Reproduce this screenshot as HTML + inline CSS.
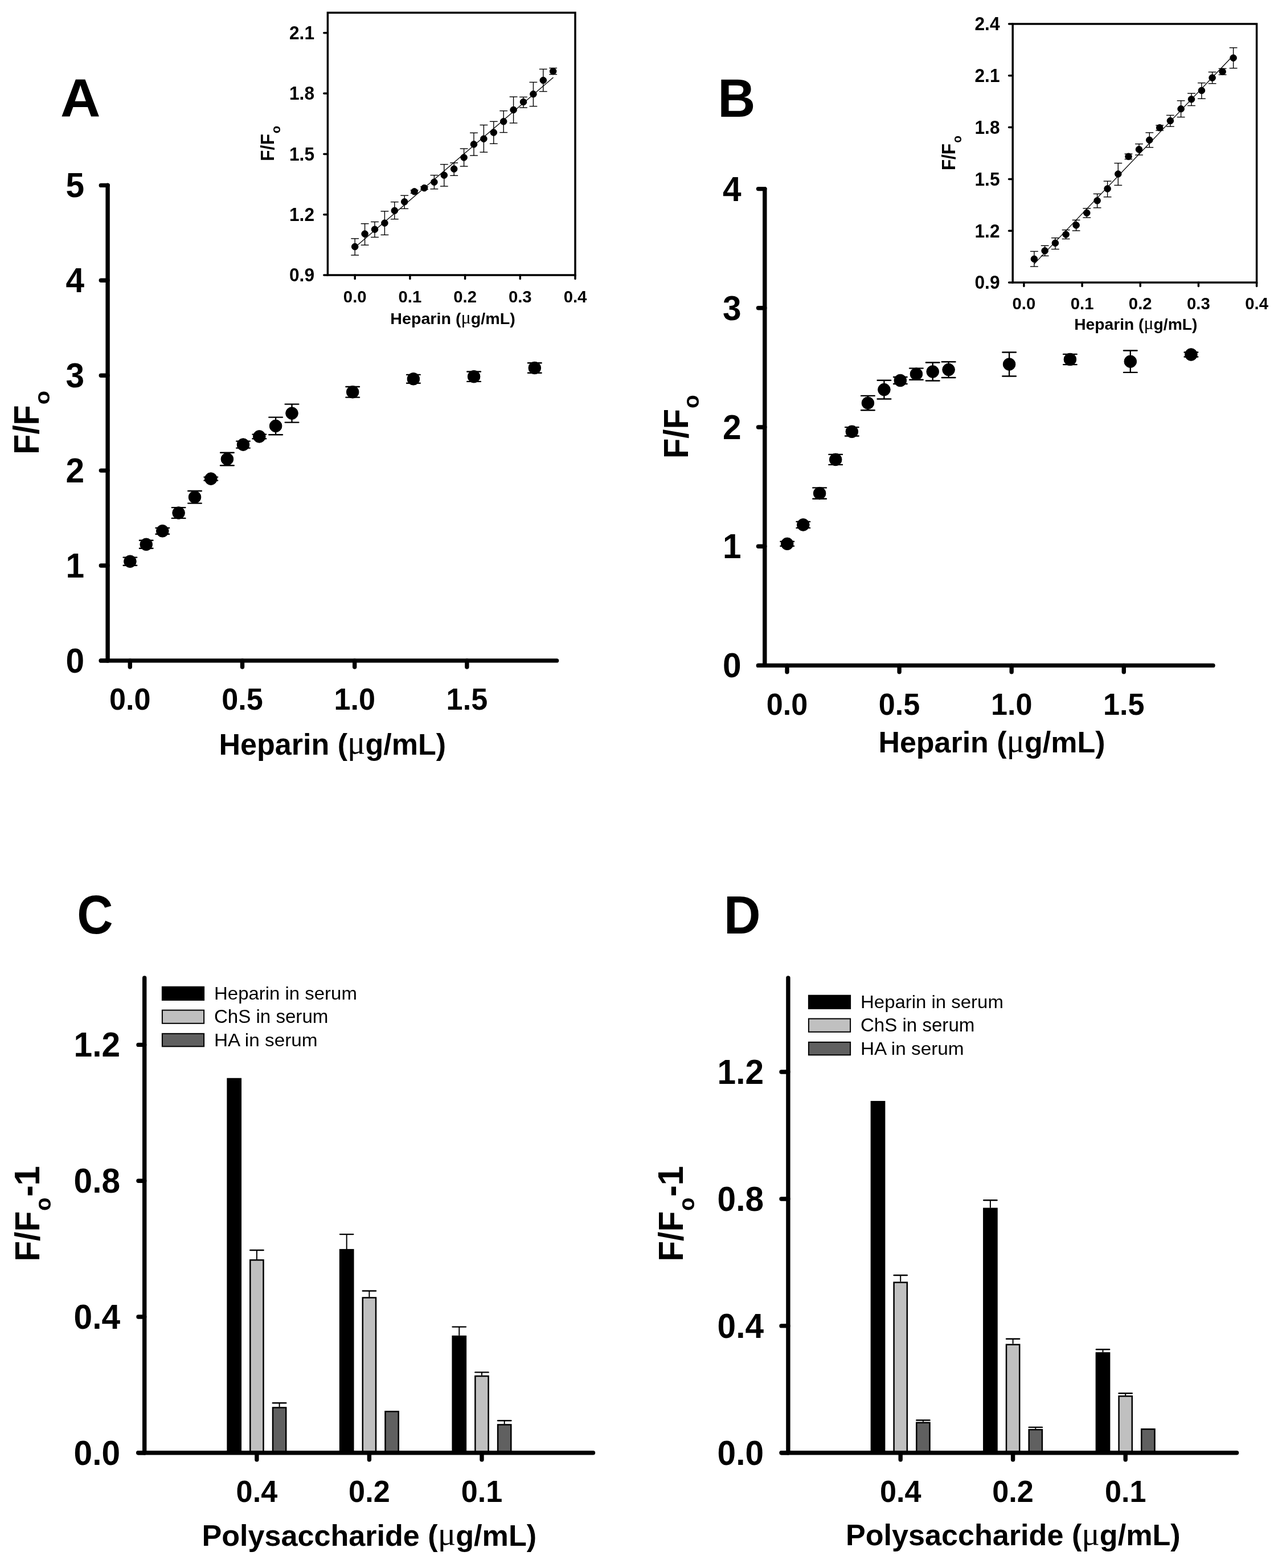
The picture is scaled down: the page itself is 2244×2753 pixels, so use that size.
<!DOCTYPE html>
<html><head><meta charset="utf-8"><title>Figure</title>
<style>
html,body{margin:0;padding:0;background:#fff;}
body{width:2244px;height:2753px;overflow:hidden;}
svg{display:block;}
text{font-family:'Liberation Sans', Arial, sans-serif;fill:#000;stroke:none;}
</style></head>
<body>
<svg width="2244" height="2753" viewBox="0 0 2244 2753">
<rect width="2244" height="2753" fill="#fff"/>
<g stroke="#000" fill="#000">
<line x1="189.1" y1="325.2" x2="189.1" y2="1159.9" stroke-width="7.4" stroke-linecap="round"/>
<line x1="177.3" y1="1159.9" x2="977.6" y2="1159.9" stroke-width="7.4" stroke-linecap="round"/>
<line x1="177.3" y1="1159.9" x2="189.1" y2="1159.9" stroke-width="7.4" stroke-linecap="round"/>
<text transform="translate(148 1180.9) scale(0.96 1)" font-size="61" font-weight="bold" text-anchor="end">0</text>
<line x1="177.3" y1="993" x2="189.1" y2="993" stroke-width="7.4" stroke-linecap="round"/>
<text transform="translate(148 1014) scale(0.96 1)" font-size="61" font-weight="bold" text-anchor="end">1</text>
<line x1="177.3" y1="826.1" x2="189.1" y2="826.1" stroke-width="7.4" stroke-linecap="round"/>
<text transform="translate(148 847.1) scale(0.96 1)" font-size="61" font-weight="bold" text-anchor="end">2</text>
<line x1="177.3" y1="659.2" x2="189.1" y2="659.2" stroke-width="7.4" stroke-linecap="round"/>
<text transform="translate(148 680.2) scale(0.96 1)" font-size="61" font-weight="bold" text-anchor="end">3</text>
<line x1="177.3" y1="492.3" x2="189.1" y2="492.3" stroke-width="7.4" stroke-linecap="round"/>
<text transform="translate(148 513.3) scale(0.96 1)" font-size="61" font-weight="bold" text-anchor="end">4</text>
<line x1="177.3" y1="325.4" x2="189.1" y2="325.4" stroke-width="7.4" stroke-linecap="round"/>
<text transform="translate(148 346.4) scale(0.96 1)" font-size="61" font-weight="bold" text-anchor="end">5</text>
<line x1="228.3" y1="1159.9" x2="228.3" y2="1171.1" stroke-width="7.4" stroke-linecap="round"/>
<text transform="translate(228.3 1245.5) scale(0.985 1)" font-size="53" font-weight="bold" text-anchor="middle">0.0</text>
<line x1="425.5" y1="1159.9" x2="425.5" y2="1171.1" stroke-width="7.4" stroke-linecap="round"/>
<text transform="translate(425.5 1245.5) scale(0.985 1)" font-size="53" font-weight="bold" text-anchor="middle">0.5</text>
<line x1="622.7" y1="1159.9" x2="622.7" y2="1171.1" stroke-width="7.4" stroke-linecap="round"/>
<text transform="translate(622.7 1245.5) scale(0.985 1)" font-size="53" font-weight="bold" text-anchor="middle">1.0</text>
<line x1="819.9" y1="1159.9" x2="819.9" y2="1171.1" stroke-width="7.4" stroke-linecap="round"/>
<text transform="translate(819.9 1245.5) scale(0.985 1)" font-size="53" font-weight="bold" text-anchor="middle">1.5</text>
<line x1="228.4" y1="978.6" x2="228.4" y2="992.8" stroke-width="2.4" stroke-linecap="butt"/>
<line x1="216.6" y1="978.6" x2="240.2" y2="978.6" stroke-width="2.4" stroke-linecap="round"/>
<line x1="216.6" y1="992.8" x2="240.2" y2="992.8" stroke-width="2.4" stroke-linecap="round"/>
<line x1="256.7" y1="948.8" x2="256.7" y2="962.8" stroke-width="2.4" stroke-linecap="butt"/>
<line x1="244.9" y1="948.8" x2="268.5" y2="948.8" stroke-width="2.4" stroke-linecap="round"/>
<line x1="244.9" y1="962.8" x2="268.5" y2="962.8" stroke-width="2.4" stroke-linecap="round"/>
<line x1="285.3" y1="926.9" x2="285.3" y2="937.7" stroke-width="2.4" stroke-linecap="butt"/>
<line x1="273.5" y1="926.9" x2="297.1" y2="926.9" stroke-width="2.4" stroke-linecap="round"/>
<line x1="273.5" y1="937.7" x2="297.1" y2="937.7" stroke-width="2.4" stroke-linecap="round"/>
<line x1="313.6" y1="891.1" x2="313.6" y2="909.9" stroke-width="2.4" stroke-linecap="butt"/>
<line x1="301.8" y1="891.1" x2="325.4" y2="891.1" stroke-width="2.4" stroke-linecap="round"/>
<line x1="301.8" y1="909.9" x2="325.4" y2="909.9" stroke-width="2.4" stroke-linecap="round"/>
<line x1="342" y1="862" x2="342" y2="883.6" stroke-width="2.4" stroke-linecap="butt"/>
<line x1="330.2" y1="862" x2="353.8" y2="862" stroke-width="2.4" stroke-linecap="round"/>
<line x1="330.2" y1="883.6" x2="353.8" y2="883.6" stroke-width="2.4" stroke-linecap="round"/>
<line x1="370.3" y1="837.6" x2="370.3" y2="843.6" stroke-width="2.4" stroke-linecap="butt"/>
<line x1="358.5" y1="837.6" x2="382.1" y2="837.6" stroke-width="2.4" stroke-linecap="round"/>
<line x1="358.5" y1="843.6" x2="382.1" y2="843.6" stroke-width="2.4" stroke-linecap="round"/>
<line x1="398.9" y1="794.7" x2="398.9" y2="817.3" stroke-width="2.4" stroke-linecap="butt"/>
<line x1="387.1" y1="794.7" x2="410.7" y2="794.7" stroke-width="2.4" stroke-linecap="round"/>
<line x1="387.1" y1="817.3" x2="410.7" y2="817.3" stroke-width="2.4" stroke-linecap="round"/>
<line x1="427" y1="774.6" x2="427" y2="786.6" stroke-width="2.4" stroke-linecap="butt"/>
<line x1="415.2" y1="774.6" x2="438.8" y2="774.6" stroke-width="2.4" stroke-linecap="round"/>
<line x1="415.2" y1="786.6" x2="438.8" y2="786.6" stroke-width="2.4" stroke-linecap="round"/>
<line x1="455.3" y1="762.6" x2="455.3" y2="770.2" stroke-width="2.4" stroke-linecap="butt"/>
<line x1="443.5" y1="762.6" x2="467.1" y2="762.6" stroke-width="2.4" stroke-linecap="round"/>
<line x1="443.5" y1="770.2" x2="467.1" y2="770.2" stroke-width="2.4" stroke-linecap="round"/>
<line x1="484.1" y1="732.6" x2="484.1" y2="763.2" stroke-width="2.4" stroke-linecap="butt"/>
<line x1="472.3" y1="732.6" x2="495.9" y2="732.6" stroke-width="2.4" stroke-linecap="round"/>
<line x1="472.3" y1="763.2" x2="495.9" y2="763.2" stroke-width="2.4" stroke-linecap="round"/>
<line x1="512.5" y1="709.6" x2="512.5" y2="741.6" stroke-width="2.4" stroke-linecap="butt"/>
<line x1="500.7" y1="709.6" x2="524.3" y2="709.6" stroke-width="2.4" stroke-linecap="round"/>
<line x1="500.7" y1="741.6" x2="524.3" y2="741.6" stroke-width="2.4" stroke-linecap="round"/>
<line x1="619.2" y1="679" x2="619.2" y2="697.6" stroke-width="2.4" stroke-linecap="butt"/>
<line x1="607.4" y1="679" x2="631" y2="679" stroke-width="2.4" stroke-linecap="round"/>
<line x1="607.4" y1="697.6" x2="631" y2="697.6" stroke-width="2.4" stroke-linecap="round"/>
<line x1="725.9" y1="657.9" x2="725.9" y2="672.7" stroke-width="2.4" stroke-linecap="butt"/>
<line x1="714.1" y1="657.9" x2="737.7" y2="657.9" stroke-width="2.4" stroke-linecap="round"/>
<line x1="714.1" y1="672.7" x2="737.7" y2="672.7" stroke-width="2.4" stroke-linecap="round"/>
<line x1="832.1" y1="652.5" x2="832.1" y2="669.9" stroke-width="2.4" stroke-linecap="butt"/>
<line x1="820.3" y1="652.5" x2="843.9" y2="652.5" stroke-width="2.4" stroke-linecap="round"/>
<line x1="820.3" y1="669.9" x2="843.9" y2="669.9" stroke-width="2.4" stroke-linecap="round"/>
<line x1="938.8" y1="637.3" x2="938.8" y2="654.7" stroke-width="2.4" stroke-linecap="butt"/>
<line x1="927" y1="637.3" x2="950.6" y2="637.3" stroke-width="2.4" stroke-linecap="round"/>
<line x1="927" y1="654.7" x2="950.6" y2="654.7" stroke-width="2.4" stroke-linecap="round"/>
<circle cx="228.4" cy="985.7" r="10.8"/>
<circle cx="256.7" cy="955.8" r="10.8"/>
<circle cx="285.3" cy="932.3" r="10.8"/>
<circle cx="313.6" cy="900.5" r="10.8"/>
<circle cx="342" cy="872.8" r="10.8"/>
<circle cx="370.3" cy="840.6" r="10.8"/>
<circle cx="398.9" cy="806" r="10.8"/>
<circle cx="427" cy="780.6" r="10.8"/>
<circle cx="455.3" cy="766.4" r="10.8"/>
<circle cx="484.1" cy="747.9" r="10.8"/>
<circle cx="512.5" cy="725.6" r="10.8"/>
<circle cx="619.2" cy="688.3" r="10.8"/>
<circle cx="725.9" cy="665.3" r="10.8"/>
<circle cx="832.1" cy="661.2" r="10.8"/>
<circle cx="938.8" cy="646" r="10.8"/>
<line x1="1342.8" y1="331.6" x2="1342.8" y2="1168.4" stroke-width="7.4" stroke-linecap="round"/>
<line x1="1331.5" y1="1168.4" x2="2130" y2="1168.4" stroke-width="7.4" stroke-linecap="round"/>
<line x1="1331.5" y1="1168.4" x2="1342.8" y2="1168.4" stroke-width="7.4" stroke-linecap="round"/>
<text transform="translate(1301.5 1189.4) scale(0.96 1)" font-size="61" font-weight="bold" text-anchor="end">0</text>
<line x1="1331.5" y1="959.2" x2="1342.8" y2="959.2" stroke-width="7.4" stroke-linecap="round"/>
<text transform="translate(1301.5 980.2) scale(0.96 1)" font-size="61" font-weight="bold" text-anchor="end">1</text>
<line x1="1331.5" y1="750" x2="1342.8" y2="750" stroke-width="7.4" stroke-linecap="round"/>
<text transform="translate(1301.5 771) scale(0.96 1)" font-size="61" font-weight="bold" text-anchor="end">2</text>
<line x1="1331.5" y1="540.8" x2="1342.8" y2="540.8" stroke-width="7.4" stroke-linecap="round"/>
<text transform="translate(1301.5 561.8) scale(0.96 1)" font-size="61" font-weight="bold" text-anchor="end">3</text>
<line x1="1331.5" y1="331.6" x2="1342.8" y2="331.6" stroke-width="7.4" stroke-linecap="round"/>
<text transform="translate(1301.5 352.6) scale(0.96 1)" font-size="61" font-weight="bold" text-anchor="end">4</text>
<line x1="1382" y1="1168.4" x2="1382" y2="1179.7" stroke-width="7.4" stroke-linecap="round"/>
<text transform="translate(1382 1255) scale(0.985 1)" font-size="53" font-weight="bold" text-anchor="middle">0.0</text>
<line x1="1579.1" y1="1168.4" x2="1579.1" y2="1179.7" stroke-width="7.4" stroke-linecap="round"/>
<text transform="translate(1579.1 1255) scale(0.985 1)" font-size="53" font-weight="bold" text-anchor="middle">0.5</text>
<line x1="1776.2" y1="1168.4" x2="1776.2" y2="1179.7" stroke-width="7.4" stroke-linecap="round"/>
<text transform="translate(1776.2 1255) scale(0.985 1)" font-size="53" font-weight="bold" text-anchor="middle">1.0</text>
<line x1="1973.3" y1="1168.4" x2="1973.3" y2="1179.7" stroke-width="7.4" stroke-linecap="round"/>
<text transform="translate(1973.3 1255) scale(0.985 1)" font-size="53" font-weight="bold" text-anchor="middle">1.5</text>
<line x1="1382.2" y1="950.8" x2="1382.2" y2="958.8" stroke-width="2.4" stroke-linecap="butt"/>
<line x1="1370.4" y1="950.8" x2="1394" y2="950.8" stroke-width="2.4" stroke-linecap="round"/>
<line x1="1370.4" y1="958.8" x2="1394" y2="958.8" stroke-width="2.4" stroke-linecap="round"/>
<line x1="1410.3" y1="915.9" x2="1410.3" y2="926.9" stroke-width="2.4" stroke-linecap="butt"/>
<line x1="1398.5" y1="915.9" x2="1422.1" y2="915.9" stroke-width="2.4" stroke-linecap="round"/>
<line x1="1398.5" y1="926.9" x2="1422.1" y2="926.9" stroke-width="2.4" stroke-linecap="round"/>
<line x1="1439.1" y1="856.4" x2="1439.1" y2="875.8" stroke-width="2.4" stroke-linecap="butt"/>
<line x1="1427.3" y1="856.4" x2="1450.9" y2="856.4" stroke-width="2.4" stroke-linecap="round"/>
<line x1="1427.3" y1="875.8" x2="1450.9" y2="875.8" stroke-width="2.4" stroke-linecap="round"/>
<line x1="1467.2" y1="797.9" x2="1467.2" y2="815.9" stroke-width="2.4" stroke-linecap="butt"/>
<line x1="1455.4" y1="797.9" x2="1479" y2="797.9" stroke-width="2.4" stroke-linecap="round"/>
<line x1="1455.4" y1="815.9" x2="1479" y2="815.9" stroke-width="2.4" stroke-linecap="round"/>
<line x1="1495.8" y1="750.1" x2="1495.8" y2="765.5" stroke-width="2.4" stroke-linecap="butt"/>
<line x1="1484" y1="750.1" x2="1507.6" y2="750.1" stroke-width="2.4" stroke-linecap="round"/>
<line x1="1484" y1="765.5" x2="1507.6" y2="765.5" stroke-width="2.4" stroke-linecap="round"/>
<line x1="1523.9" y1="694.9" x2="1523.9" y2="720.3" stroke-width="2.4" stroke-linecap="butt"/>
<line x1="1512.1" y1="694.9" x2="1535.7" y2="694.9" stroke-width="2.4" stroke-linecap="round"/>
<line x1="1512.1" y1="720.3" x2="1535.7" y2="720.3" stroke-width="2.4" stroke-linecap="round"/>
<line x1="1552.4" y1="667.7" x2="1552.4" y2="700.5" stroke-width="2.4" stroke-linecap="butt"/>
<line x1="1540.6" y1="667.7" x2="1564.2" y2="667.7" stroke-width="2.4" stroke-linecap="round"/>
<line x1="1540.6" y1="700.5" x2="1564.2" y2="700.5" stroke-width="2.4" stroke-linecap="round"/>
<line x1="1580.8" y1="662" x2="1580.8" y2="674" stroke-width="2.4" stroke-linecap="butt"/>
<line x1="1569" y1="662" x2="1592.6" y2="662" stroke-width="2.4" stroke-linecap="round"/>
<line x1="1569" y1="674" x2="1592.6" y2="674" stroke-width="2.4" stroke-linecap="round"/>
<line x1="1608.9" y1="646.6" x2="1608.9" y2="666.8" stroke-width="2.4" stroke-linecap="butt"/>
<line x1="1597.1" y1="646.6" x2="1620.7" y2="646.6" stroke-width="2.4" stroke-linecap="round"/>
<line x1="1597.1" y1="666.8" x2="1620.7" y2="666.8" stroke-width="2.4" stroke-linecap="round"/>
<line x1="1637.7" y1="636.5" x2="1637.7" y2="668.5" stroke-width="2.4" stroke-linecap="butt"/>
<line x1="1625.9" y1="636.5" x2="1649.5" y2="636.5" stroke-width="2.4" stroke-linecap="round"/>
<line x1="1625.9" y1="668.5" x2="1649.5" y2="668.5" stroke-width="2.4" stroke-linecap="round"/>
<line x1="1665.6" y1="635.2" x2="1665.6" y2="663" stroke-width="2.4" stroke-linecap="butt"/>
<line x1="1653.8" y1="635.2" x2="1677.4" y2="635.2" stroke-width="2.4" stroke-linecap="round"/>
<line x1="1653.8" y1="663" x2="1677.4" y2="663" stroke-width="2.4" stroke-linecap="round"/>
<line x1="1772.1" y1="618.5" x2="1772.1" y2="660.5" stroke-width="2.4" stroke-linecap="butt"/>
<line x1="1760.3" y1="618.5" x2="1783.9" y2="618.5" stroke-width="2.4" stroke-linecap="round"/>
<line x1="1760.3" y1="660.5" x2="1783.9" y2="660.5" stroke-width="2.4" stroke-linecap="round"/>
<line x1="1878.9" y1="621.9" x2="1878.9" y2="640.1" stroke-width="2.4" stroke-linecap="butt"/>
<line x1="1867.1" y1="621.9" x2="1890.7" y2="621.9" stroke-width="2.4" stroke-linecap="round"/>
<line x1="1867.1" y1="640.1" x2="1890.7" y2="640.1" stroke-width="2.4" stroke-linecap="round"/>
<line x1="1984.8" y1="615.5" x2="1984.8" y2="653.9" stroke-width="2.4" stroke-linecap="butt"/>
<line x1="1973" y1="615.5" x2="1996.6" y2="615.5" stroke-width="2.4" stroke-linecap="round"/>
<line x1="1973" y1="653.9" x2="1996.6" y2="653.9" stroke-width="2.4" stroke-linecap="round"/>
<line x1="2091.4" y1="618.5" x2="2091.4" y2="626.5" stroke-width="2.4" stroke-linecap="butt"/>
<line x1="2079.6" y1="618.5" x2="2103.2" y2="618.5" stroke-width="2.4" stroke-linecap="round"/>
<line x1="2079.6" y1="626.5" x2="2103.2" y2="626.5" stroke-width="2.4" stroke-linecap="round"/>
<circle cx="1382.2" cy="954.8" r="10.8"/>
<circle cx="1410.3" cy="921.4" r="10.8"/>
<circle cx="1439.1" cy="866.1" r="10.8"/>
<circle cx="1467.2" cy="806.9" r="10.8"/>
<circle cx="1495.8" cy="757.8" r="10.8"/>
<circle cx="1523.9" cy="707.6" r="10.8"/>
<circle cx="1552.4" cy="684.1" r="10.8"/>
<circle cx="1580.8" cy="668" r="10.8"/>
<circle cx="1608.9" cy="656.7" r="10.8"/>
<circle cx="1637.7" cy="652.5" r="10.8"/>
<circle cx="1665.6" cy="649.1" r="10.8"/>
<circle cx="1772.1" cy="639.5" r="10.8"/>
<circle cx="1878.9" cy="631" r="10.8"/>
<circle cx="1984.8" cy="634.7" r="10.8"/>
<circle cx="2091.4" cy="622.5" r="10.8"/>
<rect x="575.4" y="22.3" width="434.6" height="460.7" fill="none" stroke-width="3.5"/>
<line x1="568.8" y1="483" x2="575.4" y2="483" stroke-width="3.5" stroke-linecap="round"/>
<text transform="translate(552 494.4) scale(0.96 1)" font-size="33" font-weight="bold" text-anchor="end">0.9</text>
<line x1="568.8" y1="376.7" x2="575.4" y2="376.7" stroke-width="3.5" stroke-linecap="round"/>
<text transform="translate(552 388.1) scale(0.96 1)" font-size="33" font-weight="bold" text-anchor="end">1.2</text>
<line x1="568.8" y1="270.4" x2="575.4" y2="270.4" stroke-width="3.5" stroke-linecap="round"/>
<text transform="translate(552 281.8) scale(0.96 1)" font-size="33" font-weight="bold" text-anchor="end">1.5</text>
<line x1="568.8" y1="164" x2="575.4" y2="164" stroke-width="3.5" stroke-linecap="round"/>
<text transform="translate(552 175.4) scale(0.96 1)" font-size="33" font-weight="bold" text-anchor="end">1.8</text>
<line x1="568.8" y1="57.7" x2="575.4" y2="57.7" stroke-width="3.5" stroke-linecap="round"/>
<text transform="translate(552 69.1) scale(0.96 1)" font-size="33" font-weight="bold" text-anchor="end">2.1</text>
<line x1="623.2" y1="483" x2="623.2" y2="489.6" stroke-width="3.5" stroke-linecap="round"/>
<text transform="translate(623.2 530.8) scale(1.0 1)" font-size="29.3" font-weight="bold" text-anchor="middle">0.0</text>
<line x1="719.9" y1="483" x2="719.9" y2="489.6" stroke-width="3.5" stroke-linecap="round"/>
<text transform="translate(719.9 530.8) scale(1.0 1)" font-size="29.3" font-weight="bold" text-anchor="middle">0.1</text>
<line x1="816.6" y1="483" x2="816.6" y2="489.6" stroke-width="3.5" stroke-linecap="round"/>
<text transform="translate(816.6 530.8) scale(1.0 1)" font-size="29.3" font-weight="bold" text-anchor="middle">0.2</text>
<line x1="913.3" y1="483" x2="913.3" y2="489.6" stroke-width="3.5" stroke-linecap="round"/>
<text transform="translate(913.3 530.8) scale(1.0 1)" font-size="29.3" font-weight="bold" text-anchor="middle">0.3</text>
<line x1="1010" y1="483" x2="1010" y2="489.6" stroke-width="3.5" stroke-linecap="round"/>
<text transform="translate(1010 530.8) scale(1.0 1)" font-size="29.3" font-weight="bold" text-anchor="middle">0.4</text>
<line x1="623.2" y1="434.3" x2="971.5" y2="135.9" stroke-width="1.3" stroke-linecap="butt"/>
<line x1="623.2" y1="418.9" x2="623.2" y2="448" stroke-width="1.4" stroke-linecap="butt"/>
<line x1="616.3" y1="418.9" x2="630.1" y2="418.9" stroke-width="1.4" stroke-linecap="butt"/>
<line x1="616.3" y1="448" x2="630.1" y2="448" stroke-width="1.4" stroke-linecap="butt"/>
<line x1="640.6" y1="392.7" x2="640.6" y2="430.3" stroke-width="1.4" stroke-linecap="butt"/>
<line x1="633.7" y1="392.7" x2="647.5" y2="392.7" stroke-width="1.4" stroke-linecap="butt"/>
<line x1="633.7" y1="430.3" x2="647.5" y2="430.3" stroke-width="1.4" stroke-linecap="butt"/>
<line x1="658" y1="389.5" x2="658" y2="416.5" stroke-width="1.4" stroke-linecap="butt"/>
<line x1="651.1" y1="389.5" x2="664.9" y2="389.5" stroke-width="1.4" stroke-linecap="butt"/>
<line x1="651.1" y1="416.5" x2="664.9" y2="416.5" stroke-width="1.4" stroke-linecap="butt"/>
<line x1="675.4" y1="370.9" x2="675.4" y2="412.4" stroke-width="1.4" stroke-linecap="butt"/>
<line x1="668.5" y1="370.9" x2="682.3" y2="370.9" stroke-width="1.4" stroke-linecap="butt"/>
<line x1="668.5" y1="412.4" x2="682.3" y2="412.4" stroke-width="1.4" stroke-linecap="butt"/>
<line x1="692.8" y1="354.6" x2="692.8" y2="384.7" stroke-width="1.4" stroke-linecap="butt"/>
<line x1="685.9" y1="354.6" x2="699.7" y2="354.6" stroke-width="1.4" stroke-linecap="butt"/>
<line x1="685.9" y1="384.7" x2="699.7" y2="384.7" stroke-width="1.4" stroke-linecap="butt"/>
<line x1="710.2" y1="343.2" x2="710.2" y2="366.4" stroke-width="1.4" stroke-linecap="butt"/>
<line x1="703.3" y1="343.2" x2="717.1" y2="343.2" stroke-width="1.4" stroke-linecap="butt"/>
<line x1="703.3" y1="366.4" x2="717.1" y2="366.4" stroke-width="1.4" stroke-linecap="butt"/>
<line x1="727.6" y1="333.9" x2="727.6" y2="339.4" stroke-width="1.4" stroke-linecap="butt"/>
<line x1="720.7" y1="333.9" x2="734.5" y2="333.9" stroke-width="1.4" stroke-linecap="butt"/>
<line x1="720.7" y1="339.4" x2="734.5" y2="339.4" stroke-width="1.4" stroke-linecap="butt"/>
<line x1="745" y1="327.7" x2="745" y2="332.5" stroke-width="1.4" stroke-linecap="butt"/>
<line x1="738.1" y1="327.7" x2="751.9" y2="327.7" stroke-width="1.4" stroke-linecap="butt"/>
<line x1="738.1" y1="332.5" x2="751.9" y2="332.5" stroke-width="1.4" stroke-linecap="butt"/>
<line x1="762.4" y1="307.6" x2="762.4" y2="331.8" stroke-width="1.4" stroke-linecap="butt"/>
<line x1="755.5" y1="307.6" x2="769.3" y2="307.6" stroke-width="1.4" stroke-linecap="butt"/>
<line x1="755.5" y1="331.8" x2="769.3" y2="331.8" stroke-width="1.4" stroke-linecap="butt"/>
<line x1="779.8" y1="288.6" x2="779.8" y2="327" stroke-width="1.4" stroke-linecap="butt"/>
<line x1="772.9" y1="288.6" x2="786.7" y2="288.6" stroke-width="1.4" stroke-linecap="butt"/>
<line x1="772.9" y1="327" x2="786.7" y2="327" stroke-width="1.4" stroke-linecap="butt"/>
<line x1="797.2" y1="285.9" x2="797.2" y2="308.3" stroke-width="1.4" stroke-linecap="butt"/>
<line x1="790.3" y1="285.9" x2="804.1" y2="285.9" stroke-width="1.4" stroke-linecap="butt"/>
<line x1="790.3" y1="308.3" x2="804.1" y2="308.3" stroke-width="1.4" stroke-linecap="butt"/>
<line x1="814.6" y1="261" x2="814.6" y2="292" stroke-width="1.4" stroke-linecap="butt"/>
<line x1="807.7" y1="261" x2="821.5" y2="261" stroke-width="1.4" stroke-linecap="butt"/>
<line x1="807.7" y1="292" x2="821.5" y2="292" stroke-width="1.4" stroke-linecap="butt"/>
<line x1="832" y1="233.3" x2="832" y2="273.1" stroke-width="1.4" stroke-linecap="butt"/>
<line x1="825.1" y1="233.3" x2="838.9" y2="233.3" stroke-width="1.4" stroke-linecap="butt"/>
<line x1="825.1" y1="273.1" x2="838.9" y2="273.1" stroke-width="1.4" stroke-linecap="butt"/>
<line x1="849.4" y1="219.5" x2="849.4" y2="267.2" stroke-width="1.4" stroke-linecap="butt"/>
<line x1="842.5" y1="219.5" x2="856.3" y2="219.5" stroke-width="1.4" stroke-linecap="butt"/>
<line x1="842.5" y1="267.2" x2="856.3" y2="267.2" stroke-width="1.4" stroke-linecap="butt"/>
<line x1="866.8" y1="213.3" x2="866.8" y2="252.3" stroke-width="1.4" stroke-linecap="butt"/>
<line x1="859.9" y1="213.3" x2="873.7" y2="213.3" stroke-width="1.4" stroke-linecap="butt"/>
<line x1="859.9" y1="252.3" x2="873.7" y2="252.3" stroke-width="1.4" stroke-linecap="butt"/>
<line x1="884.2" y1="194.6" x2="884.2" y2="232.6" stroke-width="1.4" stroke-linecap="butt"/>
<line x1="877.3" y1="194.6" x2="891.1" y2="194.6" stroke-width="1.4" stroke-linecap="butt"/>
<line x1="877.3" y1="232.6" x2="891.1" y2="232.6" stroke-width="1.4" stroke-linecap="butt"/>
<line x1="901.6" y1="170" x2="901.6" y2="216" stroke-width="1.4" stroke-linecap="butt"/>
<line x1="894.7" y1="170" x2="908.5" y2="170" stroke-width="1.4" stroke-linecap="butt"/>
<line x1="894.7" y1="216" x2="908.5" y2="216" stroke-width="1.4" stroke-linecap="butt"/>
<line x1="919" y1="170.4" x2="919" y2="189" stroke-width="1.4" stroke-linecap="butt"/>
<line x1="912.1" y1="170.4" x2="925.9" y2="170.4" stroke-width="1.4" stroke-linecap="butt"/>
<line x1="912.1" y1="189" x2="925.9" y2="189" stroke-width="1.4" stroke-linecap="butt"/>
<line x1="936.4" y1="144.4" x2="936.4" y2="186.6" stroke-width="1.4" stroke-linecap="butt"/>
<line x1="929.5" y1="144.4" x2="943.3" y2="144.4" stroke-width="1.4" stroke-linecap="butt"/>
<line x1="929.5" y1="186.6" x2="943.3" y2="186.6" stroke-width="1.4" stroke-linecap="butt"/>
<line x1="953.8" y1="121.4" x2="953.8" y2="160.6" stroke-width="1.4" stroke-linecap="butt"/>
<line x1="946.9" y1="121.4" x2="960.7" y2="121.4" stroke-width="1.4" stroke-linecap="butt"/>
<line x1="946.9" y1="160.6" x2="960.7" y2="160.6" stroke-width="1.4" stroke-linecap="butt"/>
<line x1="971.2" y1="119.5" x2="971.2" y2="130.6" stroke-width="1.4" stroke-linecap="butt"/>
<line x1="964.3" y1="119.5" x2="978.1" y2="119.5" stroke-width="1.4" stroke-linecap="butt"/>
<line x1="964.3" y1="130.6" x2="978.1" y2="130.6" stroke-width="1.4" stroke-linecap="butt"/>
<circle cx="623.2" cy="433.1" r="5.8"/>
<circle cx="640.6" cy="410.6" r="5.8"/>
<circle cx="658" cy="402.7" r="5.8"/>
<circle cx="675.4" cy="391.6" r="5.8"/>
<circle cx="692.8" cy="369.8" r="5.8"/>
<circle cx="710.2" cy="354.3" r="5.8"/>
<circle cx="727.6" cy="336.3" r="5.8"/>
<circle cx="745" cy="330.1" r="5.8"/>
<circle cx="762.4" cy="319.7" r="5.8"/>
<circle cx="779.8" cy="307.6" r="5.8"/>
<circle cx="797.2" cy="296.6" r="5.8"/>
<circle cx="814.6" cy="276.5" r="5.8"/>
<circle cx="832" cy="253.4" r="5.8"/>
<circle cx="849.4" cy="243.7" r="5.8"/>
<circle cx="866.8" cy="232.6" r="5.8"/>
<circle cx="884.2" cy="213.3" r="5.8"/>
<circle cx="901.6" cy="192.9" r="5.8"/>
<circle cx="919" cy="179" r="5.8"/>
<circle cx="936.4" cy="165.2" r="5.8"/>
<circle cx="953.8" cy="141" r="5.8"/>
<circle cx="971.2" cy="125.1" r="5.8"/>
<rect x="1778.2" y="42" width="428.4" height="454" fill="none" stroke-width="3.5"/>
<line x1="1771.6" y1="496" x2="1778.2" y2="496" stroke-width="3.5" stroke-linecap="round"/>
<text transform="translate(1755.5 507.4) scale(0.96 1)" font-size="33" font-weight="bold" text-anchor="end">0.9</text>
<line x1="1771.6" y1="405.2" x2="1778.2" y2="405.2" stroke-width="3.5" stroke-linecap="round"/>
<text transform="translate(1755.5 416.6) scale(0.96 1)" font-size="33" font-weight="bold" text-anchor="end">1.2</text>
<line x1="1771.6" y1="314.4" x2="1778.2" y2="314.4" stroke-width="3.5" stroke-linecap="round"/>
<text transform="translate(1755.5 325.8) scale(0.96 1)" font-size="33" font-weight="bold" text-anchor="end">1.5</text>
<line x1="1771.6" y1="223.6" x2="1778.2" y2="223.6" stroke-width="3.5" stroke-linecap="round"/>
<text transform="translate(1755.5 235) scale(0.96 1)" font-size="33" font-weight="bold" text-anchor="end">1.8</text>
<line x1="1771.6" y1="132.8" x2="1778.2" y2="132.8" stroke-width="3.5" stroke-linecap="round"/>
<text transform="translate(1755.5 144.2) scale(0.96 1)" font-size="33" font-weight="bold" text-anchor="end">2.1</text>
<line x1="1771.6" y1="42" x2="1778.2" y2="42" stroke-width="3.5" stroke-linecap="round"/>
<text transform="translate(1755.5 53.4) scale(0.96 1)" font-size="33" font-weight="bold" text-anchor="end">2.4</text>
<line x1="1797.9" y1="496" x2="1797.9" y2="502.6" stroke-width="3.5" stroke-linecap="round"/>
<text transform="translate(1797.9 542.5) scale(1.0 1)" font-size="29.3" font-weight="bold" text-anchor="middle">0.0</text>
<line x1="1900.1" y1="496" x2="1900.1" y2="502.6" stroke-width="3.5" stroke-linecap="round"/>
<text transform="translate(1900.1 542.5) scale(1.0 1)" font-size="29.3" font-weight="bold" text-anchor="middle">0.1</text>
<line x1="2002.2" y1="496" x2="2002.2" y2="502.6" stroke-width="3.5" stroke-linecap="round"/>
<text transform="translate(2002.2 542.5) scale(1.0 1)" font-size="29.3" font-weight="bold" text-anchor="middle">0.2</text>
<line x1="2104.4" y1="496" x2="2104.4" y2="502.6" stroke-width="3.5" stroke-linecap="round"/>
<text transform="translate(2104.4 542.5) scale(1.0 1)" font-size="29.3" font-weight="bold" text-anchor="middle">0.3</text>
<line x1="2206.6" y1="496" x2="2206.6" y2="502.6" stroke-width="3.5" stroke-linecap="round"/>
<text transform="translate(2206.6 542.5) scale(1.0 1)" font-size="29.3" font-weight="bold" text-anchor="middle">0.4</text>
<line x1="1815.9" y1="463.4" x2="2165.6" y2="97.3" stroke-width="1.3" stroke-linecap="butt"/>
<line x1="1815.9" y1="441.4" x2="1815.9" y2="468" stroke-width="1.4" stroke-linecap="butt"/>
<line x1="1809" y1="441.4" x2="1822.8" y2="441.4" stroke-width="1.4" stroke-linecap="butt"/>
<line x1="1809" y1="468" x2="1822.8" y2="468" stroke-width="1.4" stroke-linecap="butt"/>
<line x1="1834.6" y1="431.3" x2="1834.6" y2="449.3" stroke-width="1.4" stroke-linecap="butt"/>
<line x1="1827.7" y1="431.3" x2="1841.5" y2="431.3" stroke-width="1.4" stroke-linecap="butt"/>
<line x1="1827.7" y1="449.3" x2="1841.5" y2="449.3" stroke-width="1.4" stroke-linecap="butt"/>
<line x1="1852.9" y1="417.7" x2="1852.9" y2="437.5" stroke-width="1.4" stroke-linecap="butt"/>
<line x1="1846" y1="417.7" x2="1859.8" y2="417.7" stroke-width="1.4" stroke-linecap="butt"/>
<line x1="1846" y1="437.5" x2="1859.8" y2="437.5" stroke-width="1.4" stroke-linecap="butt"/>
<line x1="1871.6" y1="403.7" x2="1871.6" y2="419.5" stroke-width="1.4" stroke-linecap="butt"/>
<line x1="1864.7" y1="403.7" x2="1878.5" y2="403.7" stroke-width="1.4" stroke-linecap="butt"/>
<line x1="1864.7" y1="419.5" x2="1878.5" y2="419.5" stroke-width="1.4" stroke-linecap="butt"/>
<line x1="1889.6" y1="386.4" x2="1889.6" y2="405.1" stroke-width="1.4" stroke-linecap="butt"/>
<line x1="1882.7" y1="386.4" x2="1896.5" y2="386.4" stroke-width="1.4" stroke-linecap="butt"/>
<line x1="1882.7" y1="405.1" x2="1896.5" y2="405.1" stroke-width="1.4" stroke-linecap="butt"/>
<line x1="1908.3" y1="365.9" x2="1908.3" y2="382.1" stroke-width="1.4" stroke-linecap="butt"/>
<line x1="1901.4" y1="365.9" x2="1915.2" y2="365.9" stroke-width="1.4" stroke-linecap="butt"/>
<line x1="1901.4" y1="382.1" x2="1915.2" y2="382.1" stroke-width="1.4" stroke-linecap="butt"/>
<line x1="1926.6" y1="340.4" x2="1926.6" y2="364.8" stroke-width="1.4" stroke-linecap="butt"/>
<line x1="1919.7" y1="340.4" x2="1933.5" y2="340.4" stroke-width="1.4" stroke-linecap="butt"/>
<line x1="1919.7" y1="364.8" x2="1933.5" y2="364.8" stroke-width="1.4" stroke-linecap="butt"/>
<line x1="1944.6" y1="318.1" x2="1944.6" y2="345.8" stroke-width="1.4" stroke-linecap="butt"/>
<line x1="1937.7" y1="318.1" x2="1951.5" y2="318.1" stroke-width="1.4" stroke-linecap="butt"/>
<line x1="1937.7" y1="345.8" x2="1951.5" y2="345.8" stroke-width="1.4" stroke-linecap="butt"/>
<line x1="1963.3" y1="286.5" x2="1963.3" y2="325.3" stroke-width="1.4" stroke-linecap="butt"/>
<line x1="1956.4" y1="286.5" x2="1970.2" y2="286.5" stroke-width="1.4" stroke-linecap="butt"/>
<line x1="1956.4" y1="325.3" x2="1970.2" y2="325.3" stroke-width="1.4" stroke-linecap="butt"/>
<line x1="1981.5" y1="270.2" x2="1981.5" y2="279.5" stroke-width="1.4" stroke-linecap="butt"/>
<line x1="1974.6" y1="270.2" x2="1988.4" y2="270.2" stroke-width="1.4" stroke-linecap="butt"/>
<line x1="1974.6" y1="279.5" x2="1988.4" y2="279.5" stroke-width="1.4" stroke-linecap="butt"/>
<line x1="2000" y1="252.7" x2="2000" y2="272.1" stroke-width="1.4" stroke-linecap="butt"/>
<line x1="1993.1" y1="252.7" x2="2006.9" y2="252.7" stroke-width="1.4" stroke-linecap="butt"/>
<line x1="1993.1" y1="272.1" x2="2006.9" y2="272.1" stroke-width="1.4" stroke-linecap="butt"/>
<line x1="2018.3" y1="232.9" x2="2018.3" y2="258.8" stroke-width="1.4" stroke-linecap="butt"/>
<line x1="2011.4" y1="232.9" x2="2025.2" y2="232.9" stroke-width="1.4" stroke-linecap="butt"/>
<line x1="2011.4" y1="258.8" x2="2025.2" y2="258.8" stroke-width="1.4" stroke-linecap="butt"/>
<line x1="2036.2" y1="220" x2="2036.2" y2="229" stroke-width="1.4" stroke-linecap="butt"/>
<line x1="2029.3" y1="220" x2="2043.1" y2="220" stroke-width="1.4" stroke-linecap="butt"/>
<line x1="2029.3" y1="229" x2="2043.1" y2="229" stroke-width="1.4" stroke-linecap="butt"/>
<line x1="2054.9" y1="202.4" x2="2054.9" y2="222.1" stroke-width="1.4" stroke-linecap="butt"/>
<line x1="2048" y1="202.4" x2="2061.8" y2="202.4" stroke-width="1.4" stroke-linecap="butt"/>
<line x1="2048" y1="222.1" x2="2061.8" y2="222.1" stroke-width="1.4" stroke-linecap="butt"/>
<line x1="2073.6" y1="176.8" x2="2073.6" y2="205.6" stroke-width="1.4" stroke-linecap="butt"/>
<line x1="2066.7" y1="176.8" x2="2080.5" y2="176.8" stroke-width="1.4" stroke-linecap="butt"/>
<line x1="2066.7" y1="205.6" x2="2080.5" y2="205.6" stroke-width="1.4" stroke-linecap="butt"/>
<line x1="2092" y1="163.9" x2="2092" y2="185.5" stroke-width="1.4" stroke-linecap="butt"/>
<line x1="2085.1" y1="163.9" x2="2098.9" y2="163.9" stroke-width="1.4" stroke-linecap="butt"/>
<line x1="2085.1" y1="185.5" x2="2098.9" y2="185.5" stroke-width="1.4" stroke-linecap="butt"/>
<line x1="2109.9" y1="145.6" x2="2109.9" y2="173.3" stroke-width="1.4" stroke-linecap="butt"/>
<line x1="2103" y1="145.6" x2="2116.8" y2="145.6" stroke-width="1.4" stroke-linecap="butt"/>
<line x1="2103" y1="173.3" x2="2116.8" y2="173.3" stroke-width="1.4" stroke-linecap="butt"/>
<line x1="2128.6" y1="126.5" x2="2128.6" y2="146.7" stroke-width="1.4" stroke-linecap="butt"/>
<line x1="2121.7" y1="126.5" x2="2135.5" y2="126.5" stroke-width="1.4" stroke-linecap="butt"/>
<line x1="2121.7" y1="146.7" x2="2135.5" y2="146.7" stroke-width="1.4" stroke-linecap="butt"/>
<line x1="2146.6" y1="120.4" x2="2146.6" y2="131.2" stroke-width="1.4" stroke-linecap="butt"/>
<line x1="2139.7" y1="120.4" x2="2153.5" y2="120.4" stroke-width="1.4" stroke-linecap="butt"/>
<line x1="2139.7" y1="131.2" x2="2153.5" y2="131.2" stroke-width="1.4" stroke-linecap="butt"/>
<line x1="2165.6" y1="83.8" x2="2165.6" y2="119.7" stroke-width="1.4" stroke-linecap="butt"/>
<line x1="2158.7" y1="83.8" x2="2172.5" y2="83.8" stroke-width="1.4" stroke-linecap="butt"/>
<line x1="2158.7" y1="119.7" x2="2172.5" y2="119.7" stroke-width="1.4" stroke-linecap="butt"/>
<circle cx="1815.9" cy="454.7" r="5.8"/>
<circle cx="1834.6" cy="440.3" r="5.8"/>
<circle cx="1852.9" cy="426.7" r="5.8"/>
<circle cx="1871.6" cy="411.6" r="5.8"/>
<circle cx="1889.6" cy="395.4" r="5.8"/>
<circle cx="1908.3" cy="373.8" r="5.8"/>
<circle cx="1926.6" cy="352.3" r="5.8"/>
<circle cx="1944.6" cy="331.4" r="5.8"/>
<circle cx="1963.3" cy="305.5" r="5.8"/>
<circle cx="1981.5" cy="274.8" r="5.8"/>
<circle cx="2000" cy="262.4" r="5.8"/>
<circle cx="2018.3" cy="245.9" r="5.8"/>
<circle cx="2036.2" cy="224.3" r="5.8"/>
<circle cx="2054.9" cy="212.1" r="5.8"/>
<circle cx="2073.6" cy="191.2" r="5.8"/>
<circle cx="2092" cy="174.3" r="5.8"/>
<circle cx="2109.9" cy="158.9" r="5.8"/>
<circle cx="2128.6" cy="136.6" r="5.8"/>
<circle cx="2146.6" cy="125.8" r="5.8"/>
<circle cx="2165.6" cy="101.7" r="5.8"/>
<rect x="399.6" y="1894" width="23.2" height="656.9" fill="#000000" stroke="#000" stroke-width="2.5"/>
<line x1="450.9" y1="2195" x2="450.9" y2="2211.1" stroke-width="2" stroke-linecap="butt"/>
<line x1="439.2" y1="2195" x2="462.6" y2="2195" stroke-width="2.4" stroke-linecap="round"/>
<rect x="439.3" y="2212.3" width="23.2" height="338.5" fill="#c0c0c0" stroke="#000" stroke-width="2.5"/>
<line x1="490.6" y1="2463.3" x2="490.6" y2="2470.2" stroke-width="2" stroke-linecap="butt"/>
<line x1="478.9" y1="2463.3" x2="502.2" y2="2463.3" stroke-width="2.4" stroke-linecap="round"/>
<rect x="479" y="2471.4" width="23.2" height="79.4" fill="#606060" stroke="#000" stroke-width="2.5"/>
<line x1="608.7" y1="2167.1" x2="608.7" y2="2193" stroke-width="2" stroke-linecap="butt"/>
<line x1="597" y1="2167.1" x2="620.3" y2="2167.1" stroke-width="2.4" stroke-linecap="round"/>
<rect x="597.1" y="2194.2" width="23.2" height="356.6" fill="#000000" stroke="#000" stroke-width="2.5"/>
<line x1="648.4" y1="2266.5" x2="648.4" y2="2277.2" stroke-width="2" stroke-linecap="butt"/>
<line x1="636.8" y1="2266.5" x2="660" y2="2266.5" stroke-width="2.4" stroke-linecap="round"/>
<rect x="636.8" y="2278.4" width="23.2" height="272.4" fill="#c0c0c0" stroke="#000" stroke-width="2.5"/>
<rect x="676.5" y="2478.2" width="23.2" height="72.6" fill="#606060" stroke="#000" stroke-width="2.5"/>
<line x1="806.3" y1="2329.6" x2="806.3" y2="2344.8" stroke-width="2" stroke-linecap="butt"/>
<line x1="794.6" y1="2329.6" x2="817.9" y2="2329.6" stroke-width="2.4" stroke-linecap="round"/>
<rect x="794.7" y="2346.1" width="23.2" height="204.8" fill="#000000" stroke="#000" stroke-width="2.5"/>
<line x1="846" y1="2409.4" x2="846" y2="2414.8" stroke-width="2" stroke-linecap="butt"/>
<line x1="834.4" y1="2409.4" x2="857.6" y2="2409.4" stroke-width="2.4" stroke-linecap="round"/>
<rect x="834.4" y="2416.1" width="23.2" height="134.8" fill="#c0c0c0" stroke="#000" stroke-width="2.5"/>
<line x1="885.7" y1="2494.3" x2="885.7" y2="2500.2" stroke-width="2" stroke-linecap="butt"/>
<line x1="874.1" y1="2494.3" x2="897.4" y2="2494.3" stroke-width="2.4" stroke-linecap="round"/>
<rect x="874.1" y="2501.4" width="23.2" height="49.4" fill="#606060" stroke="#000" stroke-width="2.5"/>
<line x1="253.7" y1="1717" x2="253.7" y2="2550.8" stroke-width="7.4" stroke-linecap="round"/>
<line x1="242.8" y1="2550.8" x2="1041.5" y2="2550.8" stroke-width="7.4" stroke-linecap="round"/>
<line x1="243" y1="2550.8" x2="253.7" y2="2550.8" stroke-width="7.4" stroke-linecap="round"/>
<text transform="translate(211 2571.8) scale(0.96 1)" font-size="61" font-weight="bold" text-anchor="end">0.0</text>
<line x1="243" y1="2312" x2="253.7" y2="2312" stroke-width="7.4" stroke-linecap="round"/>
<text transform="translate(211 2333) scale(0.96 1)" font-size="61" font-weight="bold" text-anchor="end">0.4</text>
<line x1="243" y1="2073.2" x2="253.7" y2="2073.2" stroke-width="7.4" stroke-linecap="round"/>
<text transform="translate(211 2094.2) scale(0.96 1)" font-size="61" font-weight="bold" text-anchor="end">0.8</text>
<line x1="243" y1="1834.4" x2="253.7" y2="1834.4" stroke-width="7.4" stroke-linecap="round"/>
<text transform="translate(211 1855.4) scale(0.96 1)" font-size="61" font-weight="bold" text-anchor="end">1.2</text>
<line x1="450.9" y1="2550.8" x2="450.9" y2="2562.7" stroke-width="7.4" stroke-linecap="round"/>
<text transform="translate(450.9 2636.5) scale(0.985 1)" font-size="53" font-weight="bold" text-anchor="middle">0.4</text>
<line x1="648.4" y1="2550.8" x2="648.4" y2="2562.7" stroke-width="7.4" stroke-linecap="round"/>
<text transform="translate(648.4 2636.5) scale(0.985 1)" font-size="53" font-weight="bold" text-anchor="middle">0.2</text>
<line x1="846" y1="2550.8" x2="846" y2="2562.7" stroke-width="7.4" stroke-linecap="round"/>
<text transform="translate(846 2636.5) scale(0.985 1)" font-size="53" font-weight="bold" text-anchor="middle">0.1</text>
<rect x="284.9" y="1732.7" width="73.2" height="23.2" fill="#000000" stroke="#000" stroke-width="2"/>
<rect x="284.9" y="1773.6" width="73.2" height="23.2" fill="#c0c0c0" stroke="#000" stroke-width="2"/>
<rect x="284.9" y="1814.8" width="73.2" height="22.5" fill="#606060" stroke="#000" stroke-width="2"/>
<rect x="1529.9" y="1934.2" width="23.2" height="616.6" fill="#000000" stroke="#000" stroke-width="2.5"/>
<line x1="1581.2" y1="2239" x2="1581.2" y2="2250.3" stroke-width="2" stroke-linecap="butt"/>
<line x1="1569.6" y1="2239" x2="1592.8" y2="2239" stroke-width="2.4" stroke-linecap="round"/>
<rect x="1569.6" y="2251.6" width="23.2" height="299.2" fill="#c0c0c0" stroke="#000" stroke-width="2.5"/>
<line x1="1620.9" y1="2493.5" x2="1620.9" y2="2496.5" stroke-width="2" stroke-linecap="butt"/>
<line x1="1609.3" y1="2493.5" x2="1632.5" y2="2493.5" stroke-width="2.4" stroke-linecap="round"/>
<rect x="1609.3" y="2497.8" width="23.2" height="53.1" fill="#606060" stroke="#000" stroke-width="2.5"/>
<line x1="1738.9" y1="2107.3" x2="1738.9" y2="2120.6" stroke-width="2" stroke-linecap="butt"/>
<line x1="1727.2" y1="2107.3" x2="1750.5" y2="2107.3" stroke-width="2.4" stroke-linecap="round"/>
<rect x="1727.3" y="2121.8" width="23.2" height="429" fill="#000000" stroke="#000" stroke-width="2.5"/>
<line x1="1778.6" y1="2350.7" x2="1778.6" y2="2359.5" stroke-width="2" stroke-linecap="butt"/>
<line x1="1767" y1="2350.7" x2="1790.2" y2="2350.7" stroke-width="2.4" stroke-linecap="round"/>
<rect x="1767" y="2360.8" width="23.2" height="190.1" fill="#c0c0c0" stroke="#000" stroke-width="2.5"/>
<line x1="1818.3" y1="2505.9" x2="1818.3" y2="2508.8" stroke-width="2" stroke-linecap="butt"/>
<line x1="1806.7" y1="2505.9" x2="1829.9" y2="2505.9" stroke-width="2.4" stroke-linecap="round"/>
<rect x="1806.7" y="2510.1" width="23.2" height="40.8" fill="#606060" stroke="#000" stroke-width="2.5"/>
<line x1="1936.5" y1="2369.3" x2="1936.5" y2="2374.2" stroke-width="2" stroke-linecap="butt"/>
<line x1="1924.9" y1="2369.3" x2="1948.1" y2="2369.3" stroke-width="2.4" stroke-linecap="round"/>
<rect x="1924.9" y="2375.4" width="23.2" height="175.4" fill="#000000" stroke="#000" stroke-width="2.5"/>
<line x1="1976.2" y1="2446.2" x2="1976.2" y2="2450.1" stroke-width="2" stroke-linecap="butt"/>
<line x1="1964.6" y1="2446.2" x2="1987.8" y2="2446.2" stroke-width="2.4" stroke-linecap="round"/>
<rect x="1964.6" y="2451.3" width="23.2" height="99.5" fill="#c0c0c0" stroke="#000" stroke-width="2.5"/>
<rect x="2004.3" y="2509.2" width="23.2" height="41.7" fill="#606060" stroke="#000" stroke-width="2.5"/>
<line x1="1383.9" y1="1717" x2="1383.9" y2="2550.8" stroke-width="7.4" stroke-linecap="round"/>
<line x1="1372.5" y1="2550.8" x2="2171.6" y2="2550.8" stroke-width="7.4" stroke-linecap="round"/>
<line x1="1372" y1="2550.8" x2="1383.9" y2="2550.8" stroke-width="7.4" stroke-linecap="round"/>
<text transform="translate(1341 2571.8) scale(0.96 1)" font-size="61" font-weight="bold" text-anchor="end">0.0</text>
<line x1="1372" y1="2327.9" x2="1383.9" y2="2327.9" stroke-width="7.4" stroke-linecap="round"/>
<text transform="translate(1341 2348.9) scale(0.96 1)" font-size="61" font-weight="bold" text-anchor="end">0.4</text>
<line x1="1372" y1="2105" x2="1383.9" y2="2105" stroke-width="7.4" stroke-linecap="round"/>
<text transform="translate(1341 2126) scale(0.96 1)" font-size="61" font-weight="bold" text-anchor="end">0.8</text>
<line x1="1372" y1="1882" x2="1383.9" y2="1882" stroke-width="7.4" stroke-linecap="round"/>
<text transform="translate(1341 1903) scale(0.96 1)" font-size="61" font-weight="bold" text-anchor="end">1.2</text>
<line x1="1581.2" y1="2550.8" x2="1581.2" y2="2562.7" stroke-width="7.4" stroke-linecap="round"/>
<text transform="translate(1581.2 2636.5) scale(0.985 1)" font-size="53" font-weight="bold" text-anchor="middle">0.4</text>
<line x1="1778.6" y1="2550.8" x2="1778.6" y2="2562.7" stroke-width="7.4" stroke-linecap="round"/>
<text transform="translate(1778.6 2636.5) scale(0.985 1)" font-size="53" font-weight="bold" text-anchor="middle">0.2</text>
<line x1="1976.2" y1="2550.8" x2="1976.2" y2="2562.7" stroke-width="7.4" stroke-linecap="round"/>
<text transform="translate(1976.2 2636.5) scale(0.985 1)" font-size="53" font-weight="bold" text-anchor="middle">0.1</text>
<rect x="1419.9" y="1747.7" width="73.2" height="23.2" fill="#000000" stroke="#000" stroke-width="2"/>
<rect x="1419.9" y="1788.6" width="73.2" height="23.2" fill="#c0c0c0" stroke="#000" stroke-width="2"/>
<rect x="1419.9" y="1829.8" width="73.2" height="22.5" fill="#606060" stroke="#000" stroke-width="2"/>
</g>
<text transform="matrix(1.0163 0 0 0.9939 106.06 204.80)" font-size="96" font-weight="bold">A</text>
<text transform="matrix(0.9538 0 0 0.9909 1260.30 205.10)" font-size="96" font-weight="bold">B</text>
<text transform="matrix(0.9131 0 0 1.0000 135.35 1639.00)" font-size="96" font-weight="bold">C</text>
<text transform="matrix(0.9311 0 0 0.9939 1270.95 1638.50)" font-size="96" font-weight="bold">D</text>
<text transform="matrix(0.9726 0 0 0.9640 384.50 1324.65)" font-size="53.5" font-weight="bold">Heparin (<tspan font-family="'Liberation Serif', 'DejaVu Serif', serif" font-weight="normal" font-size="1.13em" dy="-0.03em">&#956;</tspan><tspan dy="0.034em">g/mL)</tspan></text>
<text transform="matrix(0.9714 0 0 0.9680 1542.40 1321.31)" font-size="53.5" font-weight="bold">Heparin (<tspan font-family="'Liberation Serif', 'DejaVu Serif', serif" font-weight="normal" font-size="1.13em" dy="-0.03em">&#956;</tspan><tspan dy="0.034em">g/mL)</tspan></text>
<text transform="matrix(0.9556 0 0 0.9393 685.29 568.73)" font-size="30" font-weight="bold">Heparin (<tspan font-family="'Liberation Serif', 'DejaVu Serif', serif" font-weight="normal" font-size="1.13em" dy="-0.03em">&#956;</tspan><tspan dy="0.034em">g/mL)</tspan></text>
<text transform="matrix(0.9410 0 0 0.9214 1886.22 579.04)" font-size="30" font-weight="bold">Heparin (<tspan font-family="'Liberation Serif', 'DejaVu Serif', serif" font-weight="normal" font-size="1.13em" dy="-0.03em">&#956;</tspan><tspan dy="0.034em">g/mL)</tspan></text>
<text transform="matrix(0.9742 0 0 0.9560 354.49 2713.74)" font-size="53.5" font-weight="bold">Polysaccharide (<tspan font-family="'Liberation Serif', 'DejaVu Serif', serif" font-weight="normal" font-size="1.13em" dy="-0.03em">&#956;</tspan><tspan dy="0.034em">g/mL)</tspan></text>
<text transform="matrix(0.9744 0 0 0.9540 1484.99 2713.47)" font-size="53.5" font-weight="bold">Polysaccharide (<tspan font-family="'Liberation Serif', 'DejaVu Serif', serif" font-weight="normal" font-size="1.13em" dy="-0.03em">&#956;</tspan><tspan dy="0.034em">g/mL)</tspan></text>
<text transform="matrix(0.9693 0 0 0.9397 376.03 1755.42)" font-size="34" font-weight="normal">Heparin in serum</text>
<text transform="matrix(0.9693 0 0 0.9397 1511.03 1770.42)" font-size="34" font-weight="normal">Heparin in serum</text>
<text transform="matrix(0.9738 0 0 0.9859 375.90 1796.35)" font-size="34" font-weight="normal">ChS in serum</text>
<text transform="matrix(0.9738 0 0 0.9859 1510.90 1811.35)" font-size="34" font-weight="normal">ChS in serum</text>
<text transform="matrix(0.9814 0 0 0.9455 376.00 1836.96)" font-size="34" font-weight="normal">HA in serum</text>
<text transform="matrix(0.9814 0 0 0.9455 1511.00 1851.96)" font-size="34" font-weight="normal">HA in serum</text>
<text transform="matrix(1.0035 0 0 0.9295 67.80 797.65) rotate(-90)" font-size="62" font-weight="bold">F/F</text>
<text transform="matrix(0.9762 0 0 1.0341 87.16 710.15) rotate(-90)" font-size="38.4" font-weight="bold">o</text>
<text transform="matrix(0.9988 0 0 0.9387 1207.90 805.29) rotate(-90)" font-size="62" font-weight="bold">F/F</text>
<text transform="matrix(1.0048 0 0 1.0098 1227.05 717.01) rotate(-90)" font-size="38.4" font-weight="bold">o</text>
<text transform="matrix(1.0000 0 0 0.9389 481.40 282.91) rotate(-90)" font-size="34" font-weight="bold">F/F</text>
<text transform="matrix(1.0783 0 0 1.0311 492.43 234.37) rotate(-90)" font-size="21.1" font-weight="bold">o</text>
<text transform="matrix(0.9915 0 0 0.9242 1676.90 299.08) rotate(-90)" font-size="34" font-weight="bold">F/F</text>
<text transform="matrix(1.0174 0 0 0.9778 1687.65 250.73) rotate(-90)" font-size="21.1" font-weight="bold">o</text>
<text transform="matrix(0.9965 0 0 0.9480 68.70 2214.83) rotate(-90)" font-size="62" font-weight="bold">F/F</text>
<text transform="matrix(1.0238 0 0 1.0049 88.74 2126.11) rotate(-90)" font-size="38.4" font-weight="bold">o</text>
<text transform="matrix(1.1034 0 0 0.9651 71.09 2101.11) rotate(-90)" font-size="62" font-weight="bold">-</text>
<text transform="matrix(1.0082 0 0 1.0082 68.70 2081.73) rotate(-90)" font-size="62" font-weight="bold">1</text>
<text transform="matrix(0.9918 0 0 0.9480 1198.90 2214.83) rotate(-90)" font-size="62" font-weight="bold">F/F</text>
<text transform="matrix(1.0000 0 0 1.0049 1218.75 2126.11) rotate(-90)" font-size="38.4" font-weight="bold">o</text>
<text transform="matrix(1.1034 0 0 0.9651 1201.49 2101.11) rotate(-90)" font-size="62" font-weight="bold">-</text>
<text transform="matrix(1.0012 0 0 1.0012 1198.90 2081.60) rotate(-90)" font-size="62" font-weight="bold">1</text>
</svg>
</body></html>
